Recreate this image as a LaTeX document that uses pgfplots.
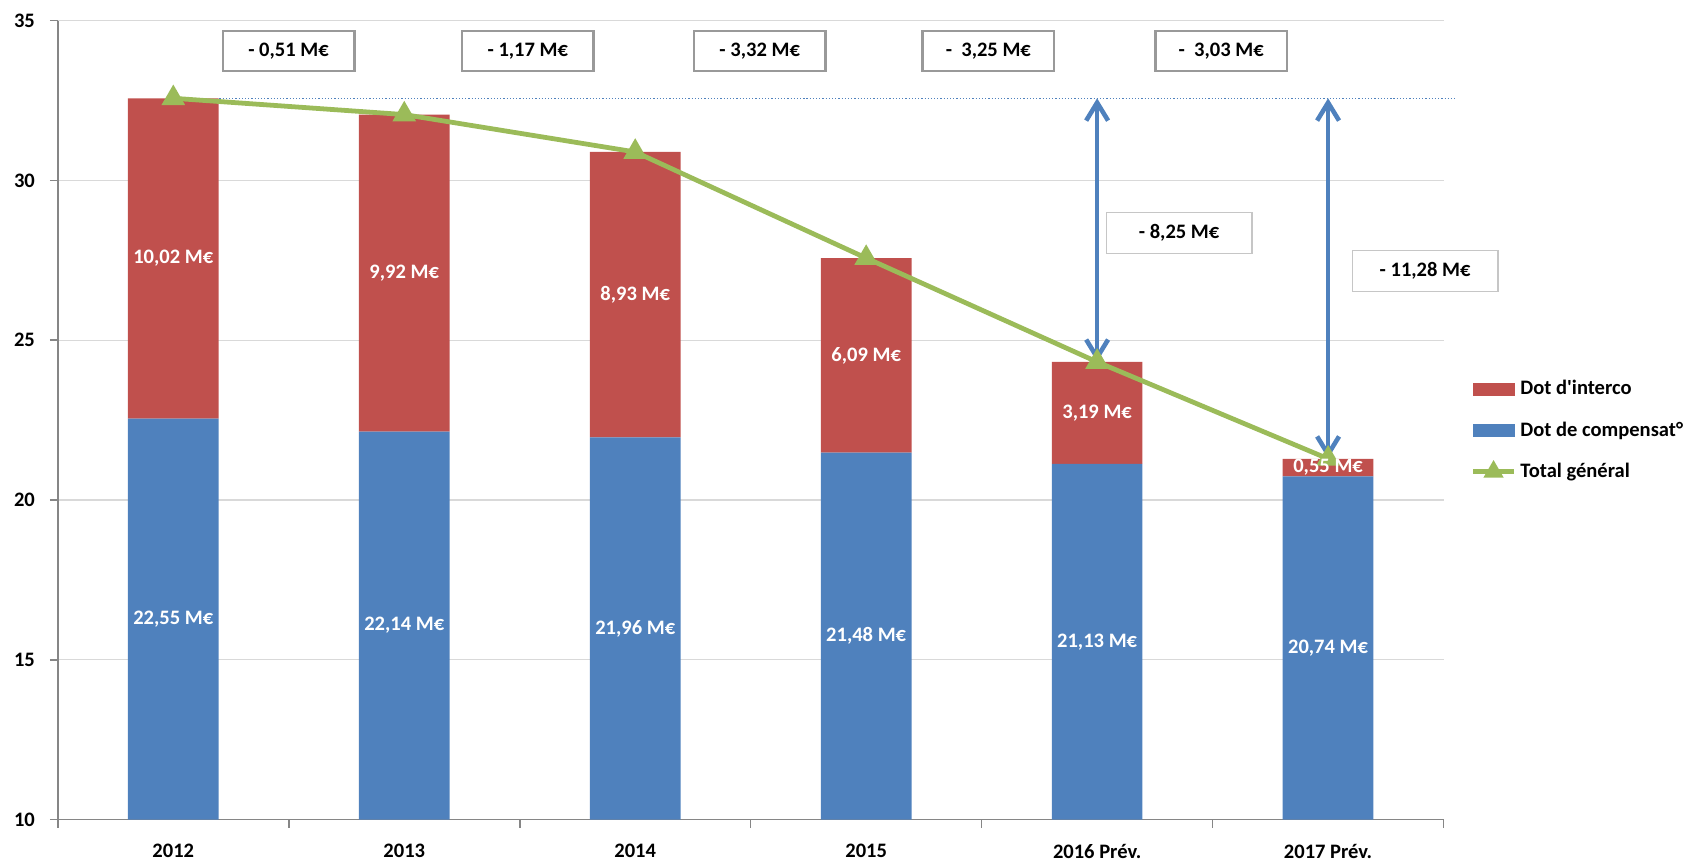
\documentclass[border=0pt]{standalone}
\usepackage{pgfplots}
\pgfplotsset{compat=1.18}
\usepackage{pgfplotstable}
\usepackage{fontspec}
\setmainfont{Carlito}
\usetikzlibrary{arrows.meta}

\definecolor{cRed}{HTML}{C0504D}
\definecolor{cBlue}{HTML}{4F81BD}
\definecolor{cGreen}{HTML}{9BBB59}
\definecolor{cGrid}{HTML}{D9D9D9}
\definecolor{cAxis}{HTML}{868686}

\pgfplotstableread{
x blue red
0 22.55 10.02
1 22.14 9.92
2 21.96 8.93
3 21.48 6.09
4 21.13 3.19
5 20.74 0.55
}\data

\pgfplotsset{
 base/.style={
  scale only axis, width=695pt, height=400.7pt,
  xmin=-0.5, xmax=5.5, ymin=10, ymax=35,
 },
 lineleg/.style={legend image code/.code={\draw[##1,mark repeat=2,mark phase=2] plot coordinates {(0pt,0pt)(10.25pt,0pt)(20.5pt,0pt)};}},
 redleg/.style={legend image code/.code={\fill[cRed] (0pt,-3pt) rectangle (20.5pt,3pt);}},
 blueleg/.style={legend image code/.code={\fill[cBlue] (0pt,-3pt) rectangle (20.5pt,3pt);}},
}
\newcommand{\lbl}{\bfseries\fontsize{10.3}{12}\selectfont}

\begin{document}
\begin{tikzpicture}[font=\lbl]
\begin{axis}[base,
  ybar stacked, bar width=45.5pt,
  axis x line*=bottom, axis y line*=left,
  axis line style={cAxis, line width=0.8pt},
  ytick={10,15,...,35},
  xtick={0,...,5},
  xticklabels={2012,2013,2014,2015,2016 Prév.,2017 Prév.},
  minor xtick={-0.5,0.5,...,5.5},
  ymajorgrids, grid style={cGrid, line width=0.6pt},
  tick align=outside,
  major tick length=4pt, minor tick length=4pt,
  every major x tick/.append style={draw=none},
  every minor x tick/.append style={cAxis, line width=0.8pt},
  every major y tick/.append style={cAxis, line width=0.8pt},
  tick label style={font=\lbl, text=black},
  yticklabel style={xshift=-4pt},
  xticklabel style={yshift=-4.8pt},
  /pgf/number format/assume math mode=true,
]
\addplot[fill=cBlue, draw=none] table[x=x,y=blue]\data;
\addplot[fill=cRed, draw=none] table[x=x,y=red]\data;
\end{axis}
\begin{axis}[base, hide axis, clip=false,
  /pgf/number format/assume math mode=true,
  legend style={at={(1.015,0.487)}, anchor=west, draw=none, fill=none,
     font=\lbl, row sep=8pt, cells={anchor=west}},
  legend cell align=left,
]
\addlegendimage{redleg}
\addlegendentry{Dot d\textquotesingle interco}
\addlegendimage{blueleg}
\addlegendentry{Dot de compensat°}
\addlegendimage{cGreen, line width=2.4pt, mark=triangle*, mark size=3.5pt, lineleg}
\addlegendentry{Total général}

\addplot[cBlue, densely dotted, line width=0.6pt, forget plot] coordinates {(0.2,32.57)(5.55,32.57)};

\addplot[cGreen, line width=2.4pt, mark=triangle*, mark size=4.5pt, forget plot]
  table[x=x, y expr=\thisrow{blue}+\thisrow{red}]\data;

\addplot[cBlue, line width=2.3pt, {Straight Barb[length=9pt,width=11pt]}-{Straight Barb[length=9pt,width=11pt]}, forget plot]
  coordinates {(4,32.57)(4,24.32)};
\addplot[cBlue, line width=2.3pt, {Straight Barb[length=9pt,width=11pt]}-{Straight Barb[length=9pt,width=11pt]}, forget plot]
  coordinates {(5,32.57)(5,21.29)};

\addplot[draw=none, mark=none, forget plot,
  nodes near coords={\pgfmathprintnumber[fixed,fixed zerofill,precision=2,use comma]{\pgfplotspointmeta}~M€},
  every node near coord/.append style={text=white, anchor=center, font=\lbl},
  point meta=\thisrow{blue}]
  table[x=x, y expr={(10+\thisrow{blue})/2}]\data;
\addplot[draw=none, mark=none, forget plot,
  nodes near coords={\pgfmathprintnumber[fixed,fixed zerofill,precision=2,use comma]{\pgfplotspointmeta}~M€},
  every node near coord/.append style={text=white, anchor=center, font=\lbl},
  point meta=\thisrow{red}]
  table[x=x, y expr={\thisrow{blue}+\thisrow{red}/2}]\data;

\addplot[draw=none, mark=none, forget plot, nodes near coords, point meta=explicit symbolic,
  every node near coord/.append style={anchor=center, draw=gray!80, fill=white, line width=1.2pt,
     minimum width=66pt, minimum height=20pt, text=black, font=\lbl}]
  coordinates {(0.499,34.05)[- 0,51 M€] (1.535,34.05)[- 1,17 M€] (2.539,34.05)[- 3,32 M€]
               (3.529,34.05)[-\ \ 3,25 M€] (4.537,34.05)[-\ \ 3,03 M€]};
\addplot[draw=none, mark=none, forget plot, nodes near coords, point meta=explicit symbolic,
  every node near coord/.append style={anchor=center, draw=gray!45, fill=white, line width=0.7pt,
     minimum width=73pt, minimum height=20.5pt, text=black, font=\lbl}]
  coordinates {(4.355,28.35)[- 8,25 M€] (5.42,27.17)[- 11,28 M€]};
\end{axis}
\path ([xshift=-29pt,yshift=-21.5pt]current axis.south west) rectangle ([xshift=122.5pt,yshift=10.35pt]current axis.north east);
\end{tikzpicture}
\end{document}
